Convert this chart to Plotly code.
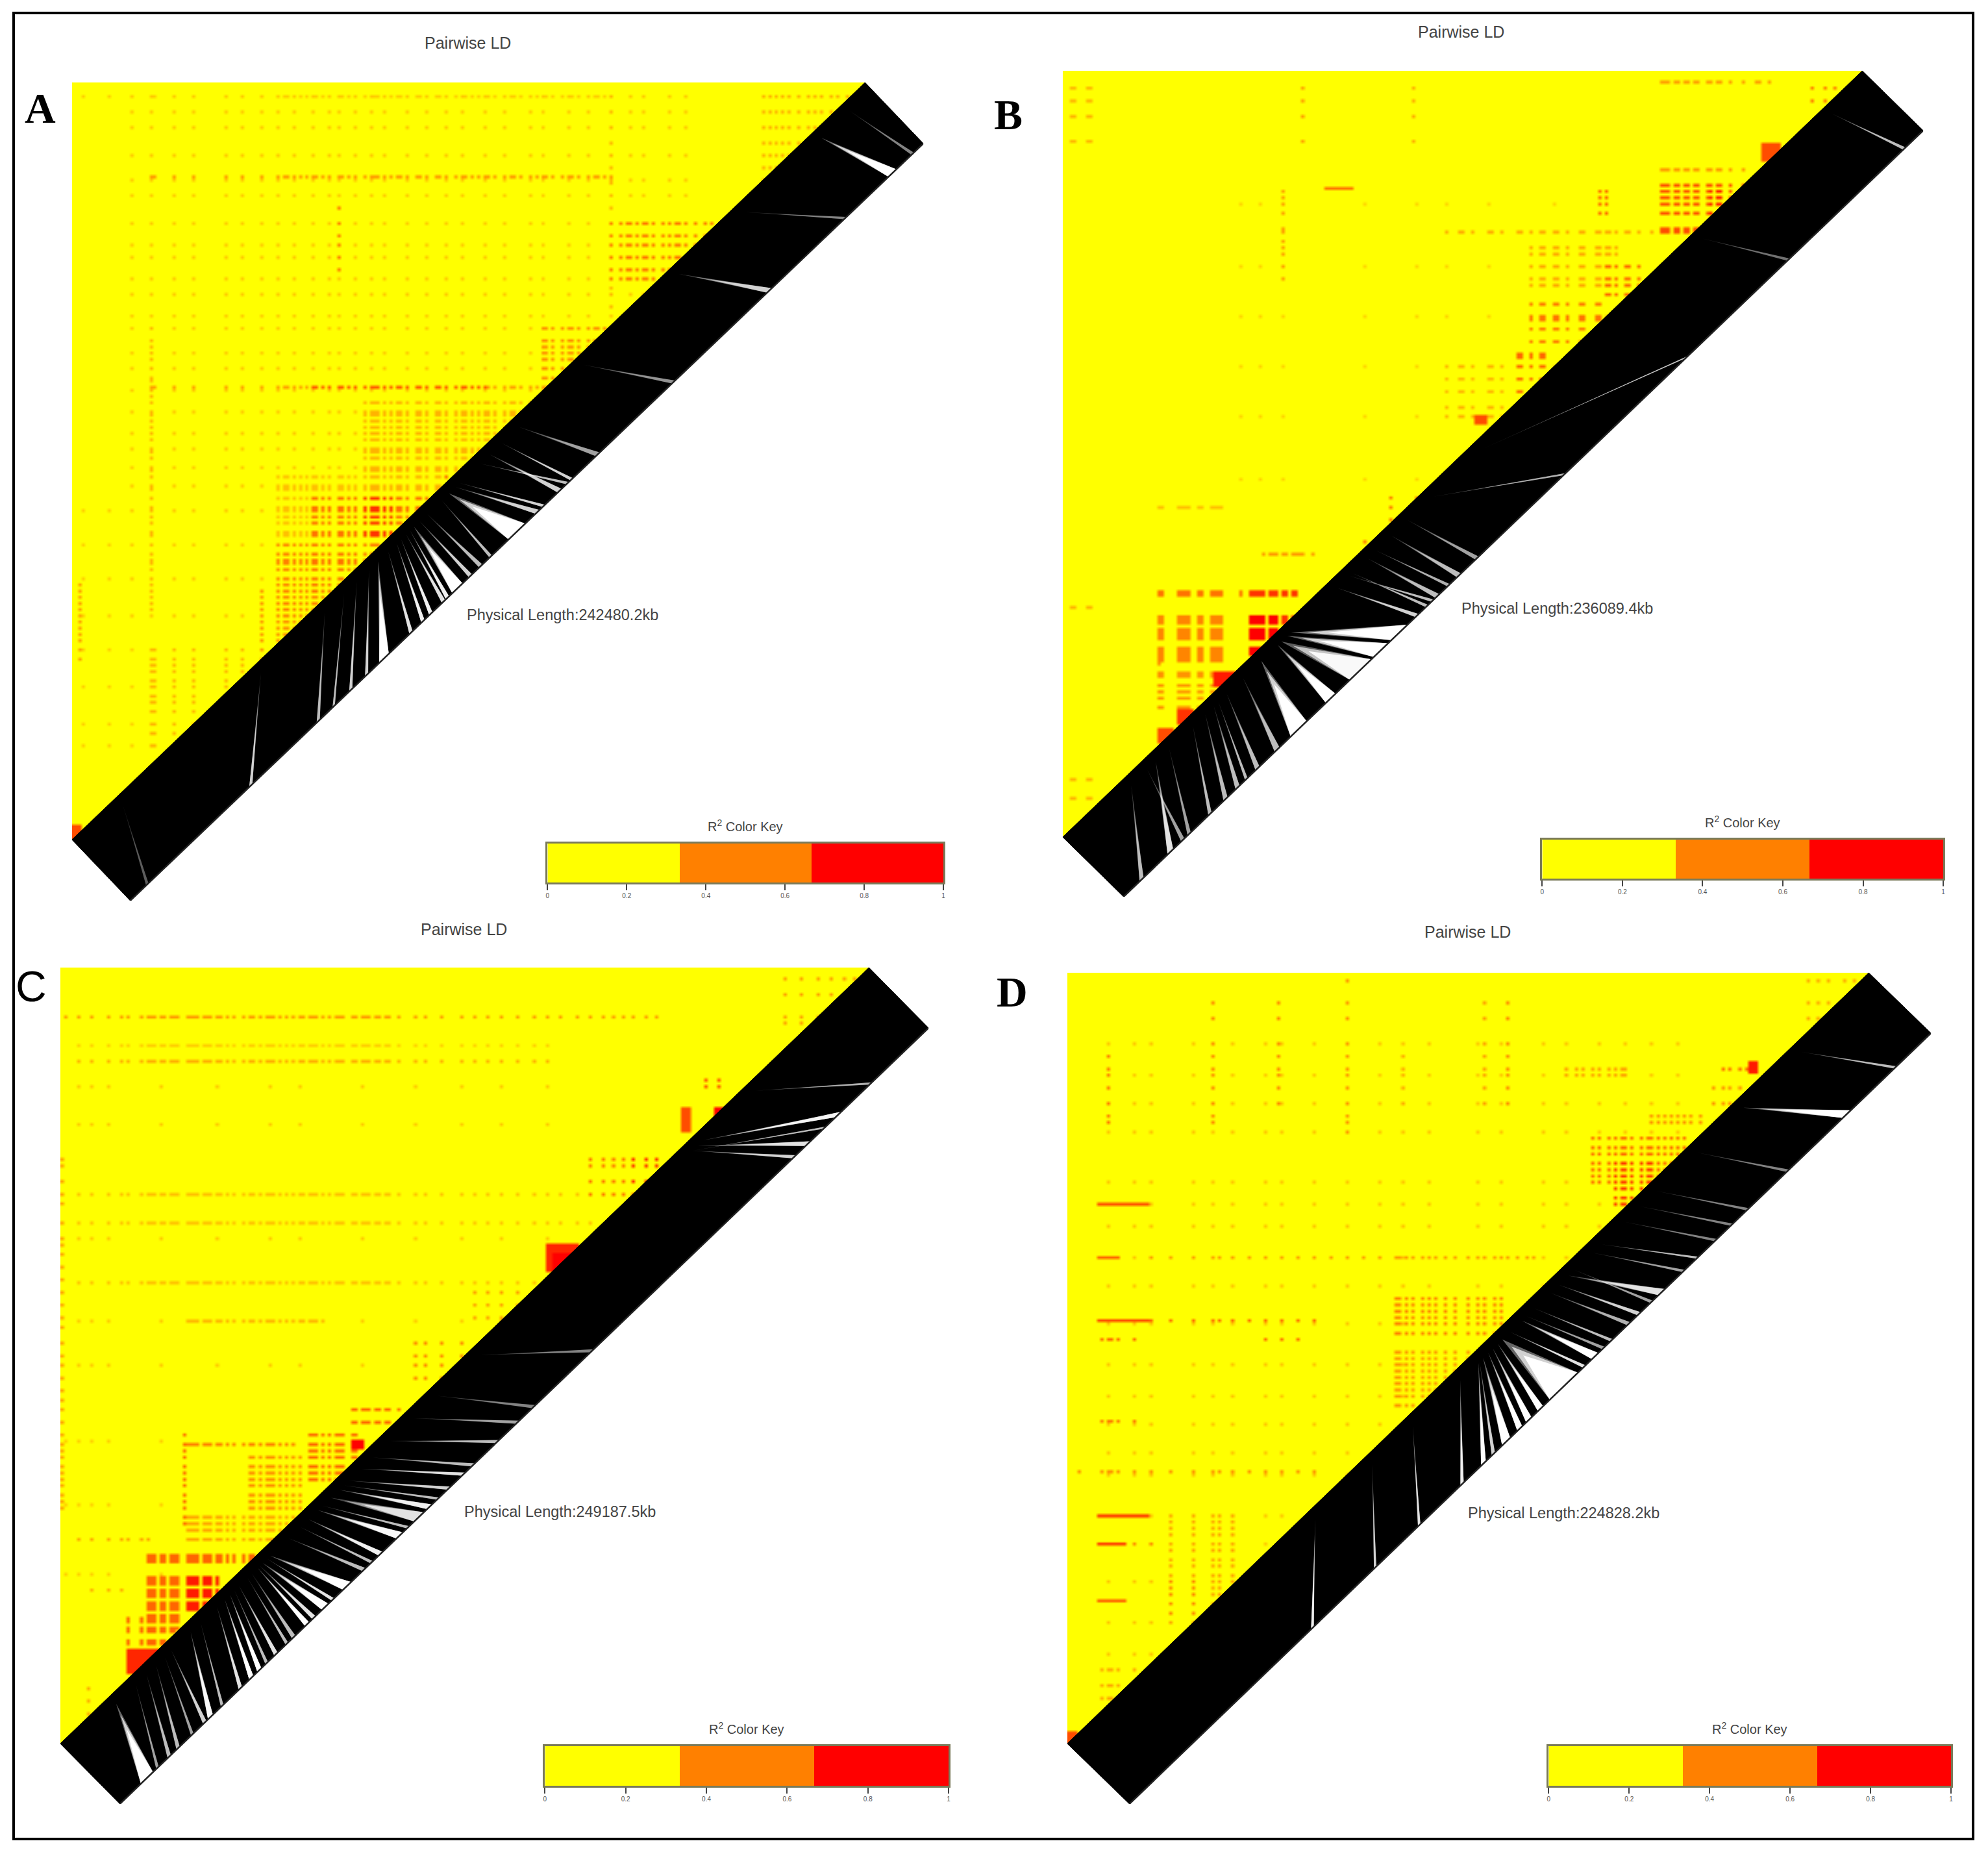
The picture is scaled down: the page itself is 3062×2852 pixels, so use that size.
import plotly.graph_objects as go

W, H = 3062, 2852
N = 245
PANELS = ["A", "B", "C", "D"]
LENGTHS = ["242480.2", "236089.4", "249187.5", "224828.2"]
KEY_TICKS = [0, 0.2, 0.4, 0.6, 0.8, 1]
KEY_LABELS = ["0", "0.2", "0.4", "0.6", "0.8", "1"]
KEY_CENTRES = [1/6, 1/2, 5/6]
KEY_LEVELS = [0, 0.5, 1]

# Columns / rows (cell index) carrying LD signal
A_cols = [3,11,18,24,25,31,37,47,52,58,63,65,66,68,70,72,74,75,77,79,82,83,85,87,90,92,93,94,96,98,100,101,103,106,107,109,112,113,115,118,120,121,123,125,127,128,130,133,135,136,138,141,143,145,146,148,151,153,154,156,159,161,162,164,166,169,171,172,174,176,177,179,182,184,186,187,189,192,195,197,199,203,205,207,210,213,215,217,219,221,224,227,229,231,234,236,239]
A_rows = [4,9,14,19,23,27,31,32,36,40,45,49,52,56,60,63,66,68,72,75,77,79,83,85,87,89,92,95,96,99,101,103,106,107,109,111,113,115,118,119,121,124,125,127,130,131,134,137,138,140,142,145,146,149,152,154,155,157,160,162,164,166,168,170,172,174,176,178,180,183,186,188,190,193,195,198,200,203,207,210,214,218,222,228]
A_sparse_cols = [3,11,18,24,31,37,47,52,58,63,68,74,79,82,87,92,96,103,109,115,120,127,133,141,145,153,159,166,172,176,184,189]
A_sparse_rows = [4,9,14,23,31,36,45,52,56,63,68,75,79,87,92,99,106,113,118,124,130,138,149,160,172,183,195,207,214]
A_patches = [
 (0,67,1.7,1.7,.2,"r"),(8,68,12.6,12.6,.42,"r"),(33.5,33.5,16,25,.55,"c"),(68,68,2,30,.3,"c"),
 (10,10,32,70,.3,"c"),(1,1,66,76,.4,"c"),(10,61,40.3,40.3,.38,"r"),(30,52,40.3,40.3,.65,"r"),
 (68,81,17,26,.55,"p"),(59,67,32,39,.45,"p"),(36,60,42,60,.3,"p"),(25,36,52,60,.25,"p"),(30,47,54,67,.55,"p"),
 (25,39,60,71,.5,"p"),(23,29,67,76,.45,"p"),(10,23,75,88,.3,"p"),(87,98,1,14,.32,"p"),
 (0,1.2,98,100,.7,"s"),(5,78,2,72,.22,"q"),(47,52,52,55,.6,"p"),(36,40,55,60,.8,"p"),(0,10,55,95,.2,"q"),
]
A_gaps = [
 (.933,.956,.966,1),(.75,.803,.809,.6),(.83,.9,.903,.3),(.97,.985,.988,.3),(.63,.683,.687,.35),
 (.55,.587,.592,.4),(.53,.555,.558,.6),(.515,.539,.544,.6),(.5,.55,.553,.5),(.47,.511,.516,.6),(.475,.52,.523,.6),(.464,.477,.498,1),
 (.458,.453,.456,.5),(.439,.44,.444,.5),(.43,.427,.431,.6),(.424,.406,.419,1),(.42,.398,.402,.8),
 (.415,.393,.397,.7),(.41,.377,.381,.8),(.405,.367,.371,.8),(.395,.352,.356,.7),(.385,.314,.326,1),
 (.375,.296,.3,.6),(.36,.276,.28,.6),(.345,.255,.258,.5),(.32,.235,.239,.5),(.24,.15,.154,.6),
 (.06,.02,.023,.2),
]

B_cols = [2,3,7,8,28,29,30,35,36,37,38,41,42,45,46,47,48,54,57,58,59,60,61,63,64,65,67,68,70,71,72,73,76,80,85,92,100,108,117,121,122,125,130,131,134,139,140,143,146,147,150,151,154,158,159,163,164,166,167,169,172,173,176,180,183,184,185,187,188,190,191,193,194,197,198,200,201,204,208,212,213,216,219,222,226,229,233,236]
B_rows = [5,9,14,22,36,38,40,42,45,50,51,54,56,58,62,66,68,71,74,78,79,82,86,90,91,94,98,102,107,110,114,118,123,126,130,136,139,143,147,150,154,158,164,166,167,168,170,174,175,176,178,179,180,181,184,185,186,187,188,189,192,193,196,198,200,203,205,207,210,212,216,222,226,232]
B_sparse_cols = [8,54,60,67,92,108,117,130,150,166,176]
B_sparse_rows = [22,42,62,78,94,110,130,150,164,178]
B_patches = [
 (0.5,4.5,2,9,.3,"p"),(30,30,2,9,.4,"c"),(27.4,27.4,15.5,27,.4,"c"),(44,44,1,13,.35,"c"),
 (33,36,15.5,15.5,.55,"s"),(75,88.5,1.3,1.3,.4,"r"),(75,85,12.7,12.7,.42,"r"),(67,68,15.5,18.6,.62,"p"),
 (75,85.4,15,22,.7,"p"),(81,83,15.5,18.6,.9,"p"),(93,97,2,5.5,.55,"p"),(87.5,89.5,9.5,11.7,.7,"s"),
 (48,74,21,21,.35,"r"),(58,70,23,28,.35,"p"),(68,73,25.5,30,.6,"p"),(58,67,30,36,.55,"p"),
 (56,60,37,42,.6,"p"),(48,55,38.6,45,.3,"p"),(51.5,53,45,46,.7,"s"),(40,45,55,59,.55,"p"),
 (36,38,61,63,.55,"p"),(12,20,56,58,.25,"p"),(25,32,62.5,64,.42,"p"),(12,23,68,68.5,.55,"r"),
 (23,29,68,68.5,.8,"r"),(12,20,71,77,.48,"p"),(23,26.6,71,76,1,"p"),(26.6,30,71,73,.8,"p"),
 (12,23,78,83,.42,"p"),(19,21.5,78.5,80,.9,"s"),(14.5,16,83.5,85,.8,"s"),(12,13.6,86,87.5,.7,"s"),
 (0,4,70,70,.3,"r"),(6.5,10,88.6,91,.3,"p"),(0,5,92,97,.3,"p"),(12,12,71,83,.45,"c"),(5,70,10,60,.18,"q"),
]
B_gaps = [
 (.95,.975,.978,.5),(.785,.83,.833,.25),(.49,.703,.706,.55),(.44,.55,.553,.45),(.42,.44,.444,.4),
 (.4,.417,.422,.5),(.37,.39,.395,.5),(.38,.405,.408,.45),(.35,.378,.381,.5),(.345,.385,.388,.5),(.33,.365,.369,.6),(.267,.335,.355,1),(.265,.313,.331,1),
 (.26,.283,.31,.9),(.26,.253,.265,1),(.242,.209,.229,1),(.22,.189,.195,.5),(.2,.165,.17,.5),(.19,.152,.155,.5),
 (.185,.14,.145,.5),(.175,.125,.13,.5),(.16,.106,.11,.5),(.13,.08,.084,.4),(.114,.055,.062,.7),
 (.1,.072,.076,.4),(.084,.02,.025,.5),
]

C_cols = [1,5,9,14,18,20,24,26,27,28,30,31,33,34,35,38,39,40,41,43,44,45,47,48,50,52,55,57,58,60,62,63,64,66,68,70,72,73,75,76,77,79,81,83,84,85,88,89,91,92,93,95,96,98,99,102,107,110,115,121,125,129,133,138,143,147,151,156,160,164,167,170,173,177,180,184,188,192,195,199,203,208,214,219,224,229,233,237,240]
C_rows = [3,8,15,17,25,29,35,37,40,45,49,51,60,62,67,71,74,80,85,87,90,94,98,102,106,110,113,118,122,125,129,133,136,139,143,147,150,152,154,157,159,161,163,166,168,170,173,175,177,180,184,185,186,188,189,190,192,193,194,196,197,198,200,201,202,204,205,206,208,209,212,213,216,217,220,221,224,227,231,235]
C_sparse_cols = [1,5,9,14,30,47,63,72,91,107,121,133,147,164,180]
C_sparse_rows = [25,37,49,71,85,99,111,125,149,169,191]
C_patches = [
 (0,75,6.2,6.2,.42,"r"),(2,60,12,12,.32,"r"),(2,60,9.8,9.8,.2,"r"),(2,70,29,29,.25,"r"),(2,66,33,33,.25,"r"),
 (2,60,40.6,40.6,.25,"r"),(15,33,45.5,45.5,.3,"r"),(30,30,8,10,.35,"c"),(79,82,14.3,15.5,.7,"p"),
 (81,82,18,20.4,1,"s"),(77,77.6,18,21,.7,"s"),(89,98,1,10,.4,"p"),(65,75,24.6,30,.55,"p"),
 (71,74,24.6,27.6,.85,"p"),(60,64,35.6,39,.85,"s"),(61,63,37,39,1,"s"),(50,58,40.6,46,.4,"p"),
 (43.7,50.7,48,54,.5,"p"),(36,42,57,59,.6,"p"),(15.5,29,61.5,61.5,.5,"r"),(15.5,15.5,60,72,.6,"c"),
 (31,36.7,59,66.5,.6,"p"),(36,37.5,61,62,1,"s"),(23.4,29.6,62.7,69.5,.45,"p"),(15.5,29,70,75,.36,"p"),
 (11,24,75.6,76.5,.6,"r"),(15.5,19.5,78.5,83,.9,"p"),(10.8,15.5,78,85,.6,"p"),(8,14,84,88,.6,"p"),
 (8.5,12.4,88,91,.85,"s"),(2,11,73.7,73.7,.38,"r"),(3,8,80,80,.35,"r"),
 (0.3,0.3,22,70,.35,"c"),(3.3,3.3,92,96,.35,"c"),(2,60,15,60,.22,"q"),(0,14,60,90,.2,"q"),
]
C_gaps = [
 (.064,.026,.041,1),(.09,.045,.048,.4),(.103,.059,.063,.5),(.115,.07,.074,.5),(.125,.088,.091,.4),(.132,.103,.107,.6),(.158,.109,.115,.9),(.17,.125,.128,.5),
 (.19,.147,.151,.7),(.199,.16,.165,1),(.205,.17,.175,1),(.21,.18,.183,.5),(.215,.191,.195,.7),(.225,.205,.208,.5),(.23,.213,.217,.5),
 (.236,.229,.234,1),(.238,.238,.242,.7),(.24,.25,.258,1),(.245,.262,.265,.7),(.247,.276,.286,1),(.27,.3,.304,.5),(.285,.31,.313,.5),(.295,.32,.325,.8),
 (.305,.342,.35,.9),(.31,.355,.358,.5),(.32,.364,.376,.7),(.33,.38,.386,.8),(.335,.392,.395,.5),(.34,.405,.409,.6),(.355,.423,.427,.7),
 (.37,.435,.439,.5),(.39,.465,.469,.5),(.42,.49,.494,.4),(.45,.51,.514,.3),(.5,.582,.586,.3),
 (.773,.885,.892,.85),(.77,.848,.854,.7),(.765,.832,.836,.6),(.84,.927,.93,.45),(.76,.87,.873,.5),
]

D_cols = [3,10,12,13,15,20,25,31,38,44,46,50,55,60,65,70,75,80,85,90,95,100,101,103,105,108,110,112,115,118,122,125,127,130,132,134,137,140,142,145,147,150,152,155,157,160,162,165,167,169,170,172,175,177,178,180,182,184,186,188,190,193,195,197,200,202,205,207,209,211,213,215,217,219,222,226,229,232,237,240]
D_rows = [2,9,14,22,26,30,32,36,41,45,47,50,52,55,57,60,62,64,66,68,71,73,75,77,80,84,87,90,92,94,97,99,103,105,107,109,111,114,116,117,120,122,124,126,128,130,132,134,137,140,143,145,147,150,152,156,159,163,167,172,174,176,178,181,183,186,188,191,193,195,197,200,203,206,209,211,216,221,226,230,234]
D_sparse_cols = [3,12,20,25,38,44,50,60,65,75,85,95,102,110,125,132,145,152,162,170,178,186]
D_sparse_rows = [9,22,32,41,50,66,73,80,90,99,111,124,134,143,152,159,172,181,193,206,216,226]
D_patches = [
 (5,5,10,20,.55,"c"),(18,18,3,20,.5,"c"),(26.4,26.4,3,18,.5,"c"),(35,35,0,21,.45,"c"),(41.7,41.7,10,18,.35,"c"),
 (52,52,3,18,.4,"c"),(54.7,54.7,3,18,.5,"c"),(4,10,30,30,.7,"s"),(4,6.5,37,37,.6,"s"),(10,59,37,37,.4,"r"),
 (10,32,45,45,.6,"r"),(4,10,45,45,.7,"s"),(4,10,47.6,47.6,.6,"r"),(24,30,47.6,47.6,.6,"r"),(4,10,58,58,.55,"r"),
 (1,32,64.8,64.8,.45,"r"),(4,10,70.5,70.5,.8,"s"),(4,7,74,74,.8,"s"),(7,11,74,74,.5,"r"),(4,7,81.6,81.6,.65,"s"),
 (65.7,77,21,27,.62,"p"),(68.5,73,24,30,.8,"p"),(73,79,18.5,20.4,.45,"p"),(81.5,85.4,11.6,12.8,.6,"p"),
 (85,86,11.6,12.8,.9,"s"),(62,70,12,13.5,.4,"p"),(80,84,14,18,.45,"p"),(92,98,1,6.7,.35,"p"),(40,54,41,47,.5,"p"),
 (40,52,48.7,56,.42,"p"),(12,22.4,70,85,.38,"p"),(12,17,79,84,.5,"p"),(4,10,90,95,.35,"p"),(0,1,98.5,100,.7,"s"),
 (3,78,5,90,.24,"q"),
]
D_gaps = [
 (.9,.954,.957,.5),(.826,.89,.9,1),(.77,.82,.823,.3),(.72,.77,.773,.3),(.7,.75,.753,.3),(.68,.73,.733,.3),(.65,.7075,.71,.5),(.64,.69,.693,.4),
 (.61,.66,.668,.7),(.62,.65,.653,.4),(.6,.634,.638,.6),(.59,.621,.625,.45),(.57,.6,.603,.5),(.56,.59,.593,.4),(.5549,.577,.585,1),(.54,.566,.569,.7),(.5324,.5245,.5595,1),
 (.53,.5096,.516,1),(.525,.495,.5016,1),(.52,.484,.49,1),(.515,.465,.475,1),(.512,.452,.456,.6),(.512,.4387,.4446,.95),
 (.49,.413,.417,.8),(.43,.36,.363,.7),(.38,.305,.308,.6),(.31,.2266,.23,.8),
]

# Full-size pixel frames of each panel: heatmap left, top, apex x, lower-left y, right corner x, bottom corner y
FRAMES = [(108,127,1332,1293,1422,1387),(1637,109,2871,1289,2965,1381),(90,1490,1338,2685,1430,2778),(1644,1498,2881,2685,2977,2778)]
KEYS = [(842,1299,1453,1359),(2377,1293,2996,1353),(838,2689,1461,2750),(2387,2689,3008,2750)]
TITLES = [(719,66),(2252,49),(713,1431),(2262,1435)]
LENGTH_POS = [(865,947),(2400,937),(861,2328),(2410,2330)]
LETTERS = [(59,166,"Liberation Serif",True),(1553,176,"Liberation Serif",True),(45,1519,"Liberation Sans",False),(1559,1527,"Liberation Serif",True)]

DATA = [
 (A_cols,A_rows,A_sparse_cols,A_sparse_rows,A_patches,A_gaps),
 (B_cols,B_rows,B_sparse_cols,B_sparse_rows,B_patches,B_gaps),
 (C_cols,C_rows,C_sparse_cols,C_sparse_rows,C_patches,C_gaps),
 (D_cols,D_rows,D_sparse_cols,D_sparse_rows,D_patches,D_gaps),
]
SCALE = [[0,"#FFFF00"],[0.5,"#FF8000"],[1,"#FF0000"]]
LAYERS = [(0.12,0.4),(0.25,0.7),(0.42,1.0)]

def build_z(cols, rows, scols, srows, patches):
    z = [[0.0 if c + r < N else None for c in range(N)] for r in range(N)]
    cs, rs, sc, sr = set(cols), set(rows), set(scols), set(srows)
    for x0, x1, y0, y1, lev, mode in sorted(patches, key=lambda p: p[4]):
        c0, c1 = int(x0*N/100), int(x1*N/100)
        r0, r1 = int(y0*N/100), int(y1*N/100)
        for r in range(r0, min(r1, N-1)+1):
            for c in range(c0, min(c1, N-1)+1):
                if c + r >= N:
                    continue
                ok = {"s": True, "p": c in cs and r in rs, "r": c in cs, "c": r in rs,
                      "q": c in sc and r in sr}[mode]
                if ok:
                    z[r][c] = lev
    return z[::-1]  # bottom row first, so y = SNP index

fig = go.Figure()
layout = dict(width=W, height=H, margin=dict(l=0, r=0, t=0, b=0), paper_bgcolor="white",
              plot_bgcolor="rgba(0,0,0,0)", showlegend=False)
ann = []
for k, (panel, data) in enumerate(zip(PANELS, DATA)):
    L, T, AX, BY, RX, BOT = FRAMES[k]
    cols, rows, scols, srows, patches, gaps = data
    dx = (RX - AX) / (AX - L) * N
    dy = (BOT - BY) / (BY - T) * N
    xa, ya = f"x{2*k+1}", f"y{2*k+1}"
    layout[f"xaxis{2*k+1}"] = dict(domain=[L/W, RX/W], range=[0, N+dx], visible=False, anchor=ya, fixedrange=True)
    layout[f"yaxis{2*k+1}"] = dict(domain=[1-BOT/H, 1-T/H], range=[-dy, N], visible=False, anchor=xa, fixedrange=True)
    fig.add_trace(go.Heatmap(z=build_z(cols, rows, scols, srows, patches),
                             x=[i+.5 for i in range(N)], y=[i+.5 for i in range(N)],
                             zmin=0, zmax=1, colorscale=SCALE, showscale=False, zsmooth="best",
                             hoverinfo="skip", xaxis=xa, yaxis=ya))
    fig.add_trace(go.Scatter(x=[0, N, N+dx, dx, 0], y=[0, N, N-dy, -dy, 0], mode="lines", fill="toself",
                             fillcolor="black", line=dict(color="black", width=1), hoverinfo="skip",
                             xaxis=xa, yaxis=ya))
    for s, share in LAYERS:
        for alpha in sorted({g[3] for g in gaps}):
            xs, ys = [], []
            for u, lo, hi, a in gaps:
                if a != alpha:
                    continue
                mid = (lo + hi) / 2
                ax_ = u*N + s*(dx + (mid-u)*N)
                ay_ = u*N + s*(-dy + (mid-u)*N)
                xs += [ax_, dx+lo*N, dx+hi*N, ax_, None]
                ys += [ay_, -dy+lo*N, -dy+hi*N, ay_, None]
            fig.add_trace(go.Scatter(x=xs, y=ys, mode="lines", fill="toself",
                                     fillcolor=f"rgba(255,255,255,{alpha*share:.3f})",
                                     line=dict(width=0), hoverinfo="skip", xaxis=xa, yaxis=ya))
    fig.add_trace(go.Scatter(x=[dx, N+dx], y=[-dy, N-dy], mode="lines", line=dict(color="#222", width=2.5),
                             hoverinfo="skip", xaxis=xa, yaxis=ya))

    kl, kt, kr, kb = KEYS[k]
    xb, yb = f"x{2*k+2}", f"y{2*k+2}"
    border = "rgba(50,50,0,0.65)"
    layout[f"xaxis{2*k+2}"] = dict(domain=[kl/W, kr/W], range=[0, 1], anchor=yb, tickvals=KEY_TICKS, ticktext=KEY_LABELS,
                                   ticks="outside", ticklen=9, tickwidth=2, tickcolor="#444", showline=True, mirror=True,
                                   linecolor=border, linewidth=3, showgrid=False, zeroline=False,
                                   tickfont=dict(family="Liberation Sans", size=10, color="#555"), fixedrange=True)
    layout[f"yaxis{2*k+2}"] = dict(domain=[1-kb/H, 1-kt/H], range=[0, 1], anchor=xb, showticklabels=False, ticks="",
                                   showline=True, mirror=True, linecolor=border, linewidth=3, showgrid=False,
                                   zeroline=False, fixedrange=True)
    fig.add_trace(go.Heatmap(z=[KEY_LEVELS], x=KEY_CENTRES, y=[0.5], zmin=0, zmax=1, colorscale=SCALE, showscale=False,
                             hoverinfo="skip", xaxis=xb, yaxis=yb))

    def text(px, py, s, size, color="#444", family="Liberation Sans", bold=False):
        ann.append(dict(x=px/W, y=1-py/H, xref="paper", yref="paper", text=f"<b>{s}</b>" if bold else s, showarrow=False,
                        xanchor="center", yanchor="middle", font=dict(family=family, size=size, color=color)))
    text(*TITLES[k], "Pairwise LD", 25)
    text(*LENGTH_POS[k], f"Physical Length:{LENGTHS[k]}kb", 23.5)
    text((kl+kr)/2, kt-28, "R<sup>2</sup> Color Key", 20)
    lx, ly, fam, bold = LETTERS[k]
    text(lx, ly, panel, 66, "black", fam, bold)

layout["annotations"] = ann
layout["shapes"] = [dict(type="rect", xref="paper", yref="paper", x0=18/W, x1=3042/W, y0=1-2832/H, y1=1-20/H,
                         line=dict(color="black", width=4))]
fig.update_layout(**layout)
fig.write_html("out.html", config={"displayModeBar": False}, post_script="document.body.style.margin='0';")
